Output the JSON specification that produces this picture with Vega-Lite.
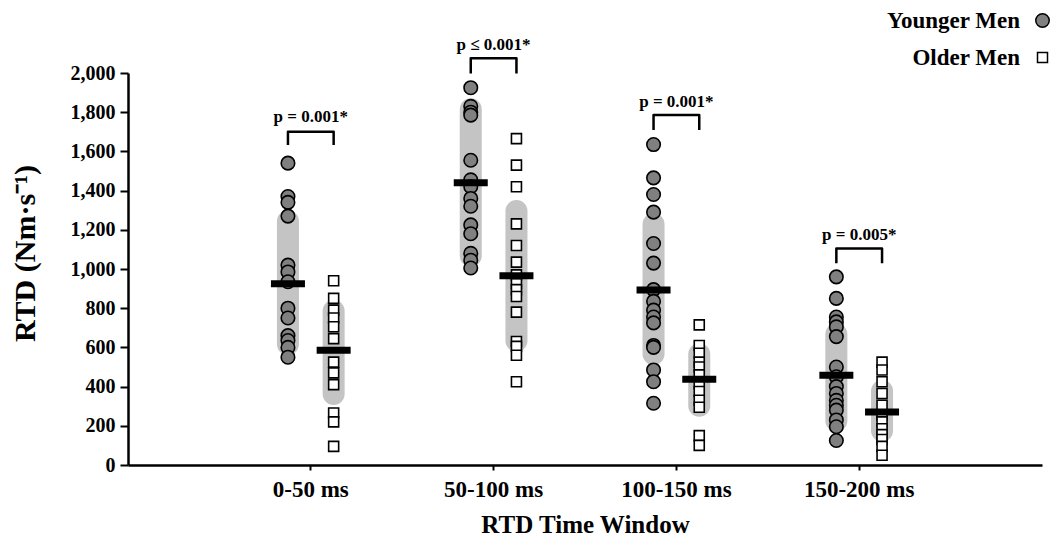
{
  "$schema": "https://vega.github.io/schema/vega-lite/v6.json",
  "width": 914,
  "height": 392,
  "autosize": {"type": "none"},
  "padding": {"left": 128, "top": 73, "right": 13, "bottom": 75},
  "background": "white",
  "config": {"view": {"stroke": null}, "font": "Liberation Serif",
    "axisY": {"tickCount": 20, "labelOverlap": false}},
  "datasets": {
    "pts": [
      {"w": "0-50 ms", "g": "Younger Men", "v": 1540}, {"w": "0-50 ms", "g": "Younger Men", "v": 1370}, {"w": "0-50 ms", "g": "Younger Men", "v": 1340}, {"w": "0-50 ms", "g": "Younger Men", "v": 1270}, {"w": "0-50 ms", "g": "Younger Men", "v": 1020}, {"w": "0-50 ms", "g": "Younger Men", "v": 985}, {"w": "0-50 ms", "g": "Younger Men", "v": 935}, {"w": "0-50 ms", "g": "Younger Men", "v": 800}, {"w": "0-50 ms", "g": "Younger Men", "v": 750}, {"w": "0-50 ms", "g": "Younger Men", "v": 660}, {"w": "0-50 ms", "g": "Younger Men", "v": 635}, {"w": "0-50 ms", "g": "Younger Men", "v": 600}, {"w": "0-50 ms", "g": "Younger Men", "v": 550},
      {"w": "0-50 ms", "g": "Older Men", "v": 940}, {"w": "0-50 ms", "g": "Older Men", "v": 850}, {"w": "0-50 ms", "g": "Older Men", "v": 790}, {"w": "0-50 ms", "g": "Older Men", "v": 750}, {"w": "0-50 ms", "g": "Older Men", "v": 705}, {"w": "0-50 ms", "g": "Older Men", "v": 645}, {"w": "0-50 ms", "g": "Older Men", "v": 525}, {"w": "0-50 ms", "g": "Older Men", "v": 470}, {"w": "0-50 ms", "g": "Older Men", "v": 410}, {"w": "0-50 ms", "g": "Older Men", "v": 265}, {"w": "0-50 ms", "g": "Older Men", "v": 220}, {"w": "0-50 ms", "g": "Older Men", "v": 95},
      {"w": "50-100 ms", "g": "Younger Men", "v": 1925}, {"w": "50-100 ms", "g": "Younger Men", "v": 1830}, {"w": "50-100 ms", "g": "Younger Men", "v": 1800}, {"w": "50-100 ms", "g": "Younger Men", "v": 1785}, {"w": "50-100 ms", "g": "Younger Men", "v": 1555}, {"w": "50-100 ms", "g": "Younger Men", "v": 1455}, {"w": "50-100 ms", "g": "Younger Men", "v": 1420}, {"w": "50-100 ms", "g": "Younger Men", "v": 1360}, {"w": "50-100 ms", "g": "Younger Men", "v": 1320}, {"w": "50-100 ms", "g": "Younger Men", "v": 1225}, {"w": "50-100 ms", "g": "Younger Men", "v": 1180}, {"w": "50-100 ms", "g": "Younger Men", "v": 1080}, {"w": "50-100 ms", "g": "Younger Men", "v": 1045}, {"w": "50-100 ms", "g": "Younger Men", "v": 1005},
      {"w": "50-100 ms", "g": "Older Men", "v": 1665}, {"w": "50-100 ms", "g": "Older Men", "v": 1530}, {"w": "50-100 ms", "g": "Older Men", "v": 1420}, {"w": "50-100 ms", "g": "Older Men", "v": 1230}, {"w": "50-100 ms", "g": "Older Men", "v": 1120}, {"w": "50-100 ms", "g": "Older Men", "v": 1035}, {"w": "50-100 ms", "g": "Older Men", "v": 970}, {"w": "50-100 ms", "g": "Older Men", "v": 925}, {"w": "50-100 ms", "g": "Older Men", "v": 895}, {"w": "50-100 ms", "g": "Older Men", "v": 860}, {"w": "50-100 ms", "g": "Older Men", "v": 780}, {"w": "50-100 ms", "g": "Older Men", "v": 630}, {"w": "50-100 ms", "g": "Older Men", "v": 605}, {"w": "50-100 ms", "g": "Older Men", "v": 560}, {"w": "50-100 ms", "g": "Older Men", "v": 425},
      {"w": "100-150 ms", "g": "Younger Men", "v": 1635}, {"w": "100-150 ms", "g": "Younger Men", "v": 1465}, {"w": "100-150 ms", "g": "Younger Men", "v": 1380}, {"w": "100-150 ms", "g": "Younger Men", "v": 1290}, {"w": "100-150 ms", "g": "Younger Men", "v": 1130}, {"w": "100-150 ms", "g": "Younger Men", "v": 1030}, {"w": "100-150 ms", "g": "Younger Men", "v": 895}, {"w": "100-150 ms", "g": "Younger Men", "v": 835}, {"w": "100-150 ms", "g": "Younger Men", "v": 790}, {"w": "100-150 ms", "g": "Younger Men", "v": 755}, {"w": "100-150 ms", "g": "Younger Men", "v": 725}, {"w": "100-150 ms", "g": "Younger Men", "v": 610}, {"w": "100-150 ms", "g": "Younger Men", "v": 600}, {"w": "100-150 ms", "g": "Younger Men", "v": 485}, {"w": "100-150 ms", "g": "Younger Men", "v": 425}, {"w": "100-150 ms", "g": "Younger Men", "v": 315},
      {"w": "100-150 ms", "g": "Older Men", "v": 715}, {"w": "100-150 ms", "g": "Older Men", "v": 610}, {"w": "100-150 ms", "g": "Older Men", "v": 570}, {"w": "100-150 ms", "g": "Older Men", "v": 525}, {"w": "100-150 ms", "g": "Older Men", "v": 500}, {"w": "100-150 ms", "g": "Older Men", "v": 460}, {"w": "100-150 ms", "g": "Older Men", "v": 415}, {"w": "100-150 ms", "g": "Older Men", "v": 375}, {"w": "100-150 ms", "g": "Older Men", "v": 330}, {"w": "100-150 ms", "g": "Older Men", "v": 295}, {"w": "100-150 ms", "g": "Older Men", "v": 150}, {"w": "100-150 ms", "g": "Older Men", "v": 100},
      {"w": "150-200 ms", "g": "Younger Men", "v": 960}, {"w": "150-200 ms", "g": "Younger Men", "v": 850}, {"w": "150-200 ms", "g": "Younger Men", "v": 755}, {"w": "150-200 ms", "g": "Younger Men", "v": 730}, {"w": "150-200 ms", "g": "Younger Men", "v": 705}, {"w": "150-200 ms", "g": "Younger Men", "v": 655}, {"w": "150-200 ms", "g": "Younger Men", "v": 500}, {"w": "150-200 ms", "g": "Younger Men", "v": 450}, {"w": "150-200 ms", "g": "Younger Men", "v": 400}, {"w": "150-200 ms", "g": "Younger Men", "v": 365}, {"w": "150-200 ms", "g": "Younger Men", "v": 330}, {"w": "150-200 ms", "g": "Younger Men", "v": 305}, {"w": "150-200 ms", "g": "Younger Men", "v": 280}, {"w": "150-200 ms", "g": "Younger Men", "v": 230}, {"w": "150-200 ms", "g": "Younger Men", "v": 195}, {"w": "150-200 ms", "g": "Younger Men", "v": 125},
      {"w": "150-200 ms", "g": "Older Men", "v": 525}, {"w": "150-200 ms", "g": "Older Men", "v": 485}, {"w": "150-200 ms", "g": "Older Men", "v": 425}, {"w": "150-200 ms", "g": "Older Men", "v": 365}, {"w": "150-200 ms", "g": "Older Men", "v": 305}, {"w": "150-200 ms", "g": "Older Men", "v": 255}, {"w": "150-200 ms", "g": "Older Men", "v": 220}, {"w": "150-200 ms", "g": "Older Men", "v": 185}, {"w": "150-200 ms", "g": "Older Men", "v": 155}, {"w": "150-200 ms", "g": "Older Men", "v": 130}, {"w": "150-200 ms", "g": "Older Men", "v": 95}, {"w": "150-200 ms", "g": "Older Men", "v": 50}
    ],
    "sum": [
      {"w": "0-50 ms", "g": "Younger Men", "mean": 925, "lo": 616, "hi": 1244},
      {"w": "0-50 ms", "g": "Older Men", "mean": 585, "lo": 362, "hi": 786},
      {"w": "50-100 ms", "g": "Younger Men", "mean": 1440, "lo": 1068, "hi": 1815},
      {"w": "50-100 ms", "g": "Older Men", "mean": 965, "lo": 634, "hi": 1296},
      {"w": "100-150 ms", "g": "Younger Men", "mean": 893, "lo": 566, "hi": 1228},
      {"w": "100-150 ms", "g": "Older Men", "mean": 438, "lo": 302, "hi": 565},
      {"w": "150-200 ms", "g": "Younger Men", "mean": 458, "lo": 226, "hi": 667},
      {"w": "150-200 ms", "g": "Older Men", "mean": 270, "lo": 175, "hi": 378}
    ],
    "br": [
      {"w": "0-50 ms", "g": "Younger Men", "v": 1633, "o": 1}, {"w": "0-50 ms", "g": "Younger Men", "v": 1700, "o": 2}, {"w": "0-50 ms", "g": "Older Men", "v": 1700, "o": 3}, {"w": "0-50 ms", "g": "Older Men", "v": 1633, "o": 4},
      {"w": "50-100 ms", "g": "Younger Men", "v": 1998, "o": 1}, {"w": "50-100 ms", "g": "Younger Men", "v": 2075, "o": 2}, {"w": "50-100 ms", "g": "Older Men", "v": 2075, "o": 3}, {"w": "50-100 ms", "g": "Older Men", "v": 1998, "o": 4},
      {"w": "100-150 ms", "g": "Younger Men", "v": 1709, "o": 1}, {"w": "100-150 ms", "g": "Younger Men", "v": 1786, "o": 2}, {"w": "100-150 ms", "g": "Older Men", "v": 1786, "o": 3}, {"w": "100-150 ms", "g": "Older Men", "v": 1709, "o": 4},
      {"w": "150-200 ms", "g": "Younger Men", "v": 1029, "o": 1}, {"w": "150-200 ms", "g": "Younger Men", "v": 1105, "o": 2}, {"w": "150-200 ms", "g": "Older Men", "v": 1105, "o": 3}, {"w": "150-200 ms", "g": "Older Men", "v": 1029, "o": 4}
    ],
    "ptxt": [
      {"w": "0-50 ms", "v": 1777, "t": "p = 0.001*"},
      {"w": "50-100 ms", "v": 2143, "t": "p ≤ 0.001*"},
      {"w": "100-150 ms", "v": 1853, "t": "p = 0.001*"},
      {"w": "150-200 ms", "v": 1173, "t": "p = 0.005*"}
    ]
  },
  "encoding": {
    "x": {
      "field": "w", "type": "nominal",
      "scale": {"domain": ["0-50 ms", "50-100 ms", "100-150 ms", "150-200 ms"], "paddingInner": 0, "paddingOuter": 0.5},
      "axis": {
        "title": "RTD Time Window", "titleFont": "Liberation Serif", "titleFontSize": 25, "titleFontWeight": "bold", "titleColor": "black", "titleY": 59, "titleBaseline": "middle",
        "labelFont": "Liberation Serif", "labelFontSize": 23, "labelFontWeight": "bold", "labelColor": "black", "labelPadding": 8, "labelAngle": 0, "labelOverlap": false,
        "domainColor": "black", "domainWidth": 2.5, "tickColor": "black", "tickWidth": 2, "tickSize": 5, "grid": false
      }
    }
  },
  "layer": [
    {
      "data": {"name": "sum"},
      "mark": {"type": "rule", "strokeWidth": 22, "strokeCap": "round", "color": "#c4c4c4"},
      "encoding": {
        "xOffset": {"field": "g", "type": "nominal", "scale": {"domain": ["Younger Men", "Older Men"], "paddingInner": 0, "paddingOuter": 1.47}},
        "y": {"field": "lo", "type": "quantitative", "scale": {"domain": [0, 2000], "nice": false},
          "axis": {
            "title": "RTD (Nm·s⁻¹)", "titleFont": "Liberation Serif", "titleFontSize": 30, "titleFontWeight": "bold", "titleColor": "black", "titleX": -103, "titleY": 180, "titleAngle": -90, "titleAlign": "center", "titleBaseline": "middle",
            "values": [0, 200, 400, 600, 800, 1000, 1200, 1400, 1600, 1800, 2000], "tickCount": 20, "format": ",.0f", "labelOverlap": false,
            "labelFont": "Liberation Serif", "labelFontSize": 20, "labelFontWeight": "bold", "labelColor": "black", "labelPadding": 5,
            "domainColor": "black", "domainWidth": 2.5, "tickColor": "black", "tickWidth": 2, "tickSize": 8, "grid": false
          }},
        "y2": {"field": "hi"}
      }
    },
    {
      "data": {"name": "br"},
      "mark": {"type": "line", "color": "black", "strokeWidth": 2.5, "strokeJoin": "round"},
      "encoding": {
        "xOffset": {"field": "g", "type": "nominal"},
        "y": {"field": "v", "type": "quantitative", "axis": {"values": [0, 200, 400, 600, 800, 1000, 1200, 1400, 1600, 1800, 2000], "tickCount": 20}},
        "detail": {"field": "w"},
        "order": {"field": "o", "type": "quantitative"}
      }
    },
    {
      "data": {"name": "ptxt"},
      "mark": {"type": "text", "fontSize": 17, "fontWeight": "bold", "font": "Liberation Serif", "color": "black", "baseline": "middle"},
      "encoding": {
        "y": {"field": "v", "type": "quantitative", "axis": {"values": [0, 200, 400, 600, 800, 1000, 1200, 1400, 1600, 1800, 2000], "tickCount": 20}},
        "text": {"field": "t"}
      }
    },
    {
      "data": {"name": "pts"},
      "mark": {"type": "point", "filled": true, "stroke": "black", "strokeWidth": 1.6, "opacity": 1},
      "encoding": {
        "xOffset": {"field": "g", "type": "nominal"},
        "y": {"field": "v", "type": "quantitative", "axis": {"values": [0, 200, 400, 600, 800, 1000, 1200, 1400, 1600, 1800, 2000], "tickCount": 20}},
        "shape": {"field": "g", "type": "nominal", "scale": {"domain": ["Younger Men", "Older Men"], "range": ["circle", "square"]},
          "legend": {"title": null, "orient": "none", "legendX": 903, "legendY": -64, "labelAlign": "right", "labelOffset": -34, "labelFont": "Liberation Serif", "labelFontSize": 23, "labelFontWeight": "bold", "labelColor": "black", "rowPadding": 13,
            "encode": {"symbols": {"update": {"stroke": {"value": "black"}, "strokeWidth": {"value": 1.6}, "opacity": {"value": 1}}}}}},
        "fill": {"field": "g", "type": "nominal", "scale": {"domain": ["Younger Men", "Older Men"], "range": ["#808080", "white"]},
          "legend": {"title": null, "orient": "none", "legendX": 903, "legendY": -64, "labelAlign": "right", "labelOffset": -34, "labelFont": "Liberation Serif", "labelFontSize": 23, "labelFontWeight": "bold", "labelColor": "black", "rowPadding": 13,
            "encode": {"symbols": {"update": {"stroke": {"value": "black"}, "strokeWidth": {"value": 1.6}, "opacity": {"value": 1}}}}}},
        "size": {"field": "g", "type": "nominal", "scale": {"domain": ["Younger Men", "Older Men"], "range": [182, 100]},
          "legend": {"title": null, "orient": "none", "legendX": 903, "legendY": -64, "labelAlign": "right", "labelOffset": -34, "labelFont": "Liberation Serif", "labelFontSize": 23, "labelFontWeight": "bold", "labelColor": "black", "rowPadding": 13,
            "encode": {"symbols": {"update": {"stroke": {"value": "black"}, "strokeWidth": {"value": 1.6}, "opacity": {"value": 1}}}}}}
      }
    },
    {
      "data": {"name": "sum"},
      "mark": {"type": "tick", "color": "black", "size": 34, "thickness": 7, "opacity": 1},
      "encoding": {
        "xOffset": {"field": "g", "type": "nominal"},
        "y": {"field": "mean", "type": "quantitative", "axis": {"values": [0, 200, 400, 600, 800, 1000, 1200, 1400, 1600, 1800, 2000], "tickCount": 20}}
      }
    }
  ]
}
